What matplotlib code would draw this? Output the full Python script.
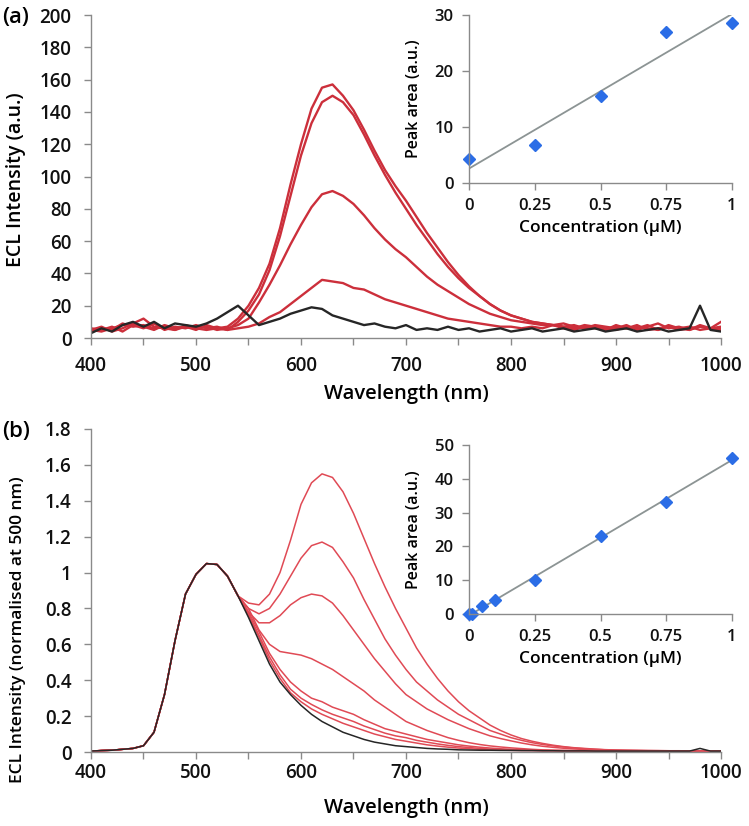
import numpy as np
import matplotlib
matplotlib.use("Agg")
import matplotlib.pyplot as plt
from matplotlib.ticker import MultipleLocator

plt.rcParams['font.family'] = ['Open Sans', 'DejaVu Sans']
plt.rcParams['font.weight'] = 'semibold'
plt.rcParams['axes.labelweight'] = 'semibold'

# ---------------- data: panel (a) ----------------
wl_a = list(range(400, 1001, 10))
a_0uM = [3, 6, 4, 8, 10, 7, 10, 6, 9, 8,
         7, 9, 12, 16, 20, 14, 8, 10, 12, 15,
         17, 19, 18, 14, 12, 10, 8, 9, 7, 6,
         8, 5, 6, 5, 7, 5, 6, 4, 5, 6,
         4, 5, 6, 4, 5, 6, 4, 5, 6, 4,
         5, 6, 4, 5, 6, 4, 5, 6, 20, 5,
         4]
a_025uM = [5, 4, 6, 8, 9, 12, 7, 6, 5, 7,
           6, 5, 6, 5, 6, 7, 9, 13, 16, 21,
           26, 31, 36, 35, 34, 31, 30, 27, 24, 22,
           20, 18, 16, 14, 12, 11, 10, 9, 8, 7,
           7, 6, 7, 6, 8, 6, 5, 7, 6, 5,
           7, 6, 8, 5, 6, 7, 5, 6, 7, 6,
           6]
a_05uM = [4, 6, 5, 9, 7, 8, 6, 7, 5, 8,
          6, 7, 5, 6, 8, 12, 22, 33, 45, 58,
          70, 81, 89, 91, 88, 83, 76, 68, 61, 55,
          50, 44, 38, 33, 29, 25, 21, 18, 15, 13,
          11, 10, 9, 8, 8, 7, 6, 8, 7, 6,
          5, 7, 6, 8, 5, 7, 6, 5, 7, 6,
          5]
a_075uM = [6, 5, 7, 4, 8, 6, 9, 5, 7, 6,
           8, 6, 7, 5, 10, 17, 27, 42, 63, 88,
           113, 133, 146, 150, 146, 138, 126, 113, 101, 90,
           80, 70, 61, 52, 44, 37, 31, 26, 21, 17,
           14, 12, 10, 9, 8, 7, 8, 6, 7, 5,
           8, 6, 7, 6, 5, 8, 6, 7, 5, 6,
           7]
a_1uM = [5, 7, 4, 6, 9, 7, 5, 8, 6, 7,
         5, 8, 6, 7, 12, 20, 31, 46, 68, 95,
         120, 142, 155, 157, 150, 141, 129, 116, 104, 94,
         85, 75, 65, 56, 47, 39, 32, 26, 21, 17,
         14, 12, 10, 9, 8, 9, 7, 6, 8, 7,
         6, 8, 5, 7, 9, 6, 7, 5, 8, 6,
         10]
conc_a = [0, 0.25, 0.5, 0.75, 1]
area_a = [4.2, 6.7, 15.5, 26.9, 28.6]

# ---------------- data: panel (b) ----------------
wl_b = list(range(400, 1001, 10))
b_rise = [0.005, 0.008, 0.01, 0.015, 0.02, 0.035, 0.11, 0.32, 0.62, 0.88,
          0.99, 1.05, 1.045, 0.98, 0.87]          # 400-540 nm, common to all
b_0uM = [0.75, 0.62, 0.49, 0.39, 0.32, 0.26, 0.21, 0.17, 0.14, 0.11,
         0.09, 0.07, 0.055, 0.045, 0.035, 0.03, 0.025, 0.02, 0.017, 0.015,
         0.012, 0.011, 0.01, 0.01, 0.009, 0.009, 0.008, 0.008, 0.007, 0.007,
         0.006, 0.006, 0.006, 0.005, 0.005, 0.005, 0.005, 0.005, 0.005, 0.005,
         0.005, 0.005, 0.005, 0.02, 0.005, 0.005]
b_001uM = [0.76, 0.64, 0.51, 0.41, 0.33, 0.28, 0.24, 0.21, 0.185, 0.16,
           0.14, 0.12, 0.10, 0.085, 0.07, 0.06, 0.05, 0.04, 0.033, 0.027,
           0.022, 0.018, 0.015, 0.012, 0.01, 0.009, 0.008, 0.008, 0.007, 0.007,
           0.006, 0.006, 0.006, 0.006, 0.005, 0.005, 0.005, 0.005, 0.005, 0.005,
           0.005, 0.005, 0.005, 0.005, 0.005, 0.005]
b_005uM = [0.77, 0.65, 0.53, 0.43, 0.35, 0.30, 0.265, 0.235, 0.21, 0.19,
           0.17, 0.145, 0.125, 0.105, 0.09, 0.08, 0.065, 0.055, 0.045, 0.037,
           0.03, 0.025, 0.02, 0.016, 0.013, 0.011, 0.01, 0.009, 0.008, 0.008,
           0.007, 0.007, 0.006, 0.006, 0.006, 0.006, 0.005, 0.005, 0.005, 0.005,
           0.005, 0.005, 0.005, 0.005, 0.005, 0.005]
b_01uM = [0.78, 0.67, 0.55, 0.46, 0.39, 0.34, 0.30, 0.28, 0.25, 0.23,
          0.21, 0.18, 0.155, 0.13, 0.115, 0.10, 0.085, 0.07, 0.06, 0.05,
          0.04, 0.033, 0.027, 0.022, 0.018, 0.015, 0.012, 0.01, 0.009, 0.008,
          0.008, 0.007, 0.007, 0.006, 0.006, 0.006, 0.006, 0.005, 0.005, 0.005,
          0.005, 0.005, 0.005, 0.005, 0.005, 0.005]
b_025uM = [0.80, 0.68, 0.60, 0.56, 0.55, 0.54, 0.52, 0.49, 0.46, 0.42,
           0.38, 0.34, 0.29, 0.25, 0.21, 0.17, 0.145, 0.12, 0.10, 0.08,
           0.065, 0.052, 0.042, 0.034, 0.028, 0.023, 0.019, 0.015, 0.012, 0.01,
           0.009, 0.008, 0.008, 0.007, 0.007, 0.006, 0.006, 0.006, 0.006, 0.005,
           0.005, 0.005, 0.005, 0.005, 0.005, 0.005]
b_05uM = [0.78, 0.72, 0.72, 0.76, 0.82, 0.86, 0.88, 0.87, 0.83, 0.76,
          0.68, 0.60, 0.52, 0.45, 0.38, 0.32, 0.28, 0.24, 0.21, 0.18,
          0.155, 0.13, 0.11, 0.09, 0.075, 0.062, 0.05, 0.04, 0.032, 0.026,
          0.021, 0.017, 0.014, 0.012, 0.01, 0.009, 0.008, 0.008, 0.007, 0.007,
          0.006, 0.006, 0.006, 0.006, 0.005, 0.005]
b_075uM = [0.80, 0.77, 0.80, 0.88, 0.98, 1.08, 1.15, 1.17, 1.14, 1.06,
           0.97, 0.85, 0.74, 0.63, 0.54, 0.46, 0.39, 0.34, 0.29, 0.25,
           0.21, 0.18, 0.15, 0.12, 0.10, 0.08, 0.065, 0.052, 0.042, 0.034,
           0.028, 0.022, 0.018, 0.015, 0.012, 0.01, 0.009, 0.008, 0.008, 0.007,
           0.007, 0.006, 0.006, 0.006, 0.006, 0.005]
b_1uM = [0.83, 0.82, 0.88, 1.0, 1.18, 1.38, 1.50, 1.55, 1.53, 1.45,
         1.33, 1.19, 1.05, 0.92, 0.80, 0.69, 0.58, 0.49, 0.41, 0.34,
         0.28, 0.23, 0.19, 0.15, 0.12, 0.095, 0.075, 0.06, 0.048, 0.038,
         0.03, 0.024, 0.02, 0.016, 0.013, 0.011, 0.01, 0.009, 0.008, 0.008,
         0.007, 0.007, 0.006, 0.006, 0.006, 0.006]
conc_b = [0, 0.01, 0.05, 0.1, 0.25, 0.5, 0.75, 1]
area_b = [0, 0.1, 2.3, 4.0, 10.0, 23.1, 33.2, 46.2]

# ---------------- styling ----------------
RED_A = '#cc2f3b'
RED_B = '#e04a55'
BLACK = '#262626'
SPINE = '#8a8a8a'
MARK = '#2b6de6'
FIT = '#8c9494'

W, H = 749, 826
fig = plt.figure(figsize=(W / 100, H / 100), dpi=100)


def rect(x0, x1, ytop, ybot):
    return [x0 / W, 1 - ybot / H, (x1 - x0) / W, (ybot - ytop) / H]


def style_axes(ax, size):
    for s in ['top', 'right']:
        ax.spines[s].set_visible(False)
    for s in ['left', 'bottom']:
        ax.spines[s].set_color(SPINE)
        ax.spines[s].set_linewidth(1.0)
    ax.tick_params(which='both', direction='out', color=SPINE, width=1.0,
                   labelsize=size, labelcolor='#111111')
    ax.tick_params(which='major', length=5)
    ax.tick_params(which='minor', length=5)
    ax.patch.set_alpha(0)


def main_axes(ax, wl, curves, colors, lw, ylim, ystep, ylabel, ylabsize,
              ylab_y, xpad, xlabpad):
    for y, c in zip(curves, colors):
        ax.plot(wl, y, color=c, lw=lw, solid_joinstyle='round')
    ax.set_xlim(400, 1000)
    ax.set_ylim(*ylim)
    ax.xaxis.set_major_locator(MultipleLocator(100))
    ax.xaxis.set_minor_locator(MultipleLocator(50))
    ax.yaxis.set_major_locator(MultipleLocator(ystep))
    style_axes(ax, 13.5)
    ax.tick_params(axis='x', pad=xpad)
    ax.tick_params(axis='y', pad=9)
    ax.set_xlabel('Wavelength (nm)', fontsize=14.5, labelpad=xlabpad)
    ax.set_ylabel(ylabel, fontsize=ylabsize)
    ax.yaxis.set_label_coords(-0.103, ylab_y)


def inset(ax, conc, area, ylim, ystep):
    k, b = np.polyfit(conc, area, 1)
    xs = np.array([0.0, 1.0])
    ax.plot(xs, k * xs + b, color=FIT, lw=1.3, zorder=1)
    ax.plot(conc, area, 'D', color=MARK, ms=6, mec=MARK, zorder=2, clip_on=False)
    ax.set_xlim(0, 1)
    ax.set_ylim(*ylim)
    ax.set_xticks([0, 0.25, 0.5, 0.75, 1])
    ax.set_xticklabels(['0', '0.25', '0.5', '0.75', '1'])
    ax.yaxis.set_major_locator(MultipleLocator(ystep))
    style_axes(ax, 12)
    ax.tick_params(axis='x', pad=6)
    ax.tick_params(axis='y', pad=6)
    ax.set_xlabel('Concentration (\u00b5M)', fontsize=12.5, labelpad=4)
    ax.set_ylabel('Peak area (a.u.)', fontsize=11.5)
    ax.yaxis.set_label_coords(-0.18, 0.5)


# panel (a)
axA = fig.add_axes(rect(91, 721, 15, 338))
main_axes(axA, wl_a, [a_025uM, a_05uM, a_075uM, a_1uM, a_0uM],
          [RED_A, RED_A, RED_A, RED_A, BLACK], 1.7, (0, 200), 20,
          'ECL Intensity (a.u.)', 14, 0.49, 8, 6)
fig.text(2 / W, 1 - 17 / H, '(a)', fontsize=16, va='center', ha='left')

axAi = fig.add_axes(rect(469, 732, 15, 183))
inset(axAi, conc_a, area_a, (0, 30), 10)

# panel (b)
axB = fig.add_axes(rect(91, 721, 429, 752))
curves_b = [b_rise + c for c in [b_001uM, b_005uM, b_01uM, b_025uM, b_05uM, b_075uM, b_1uM]]
main_axes(axB, wl_b, curves_b + [b_rise + b_0uM],
          [RED_B] * 7 + [BLACK], 1.1, (0, 1.8), 0.2,
          'ECL Intensity (normalised at 500 nm)', 12.5, 0.38, 3, 11)
axB.yaxis.set_major_formatter(plt.FuncFormatter(lambda v, p: f'{v:.1f}'.rstrip('0').rstrip('.') if v else '0'))
fig.text(2 / W, 1 - 431 / H, '(b)', fontsize=16, va='center', ha='left')

axBi = fig.add_axes(rect(469, 732, 445, 614))
inset(axBi, conc_b, area_b, (0, 50), 10)

fig.savefig('out.png', dpi=100)
